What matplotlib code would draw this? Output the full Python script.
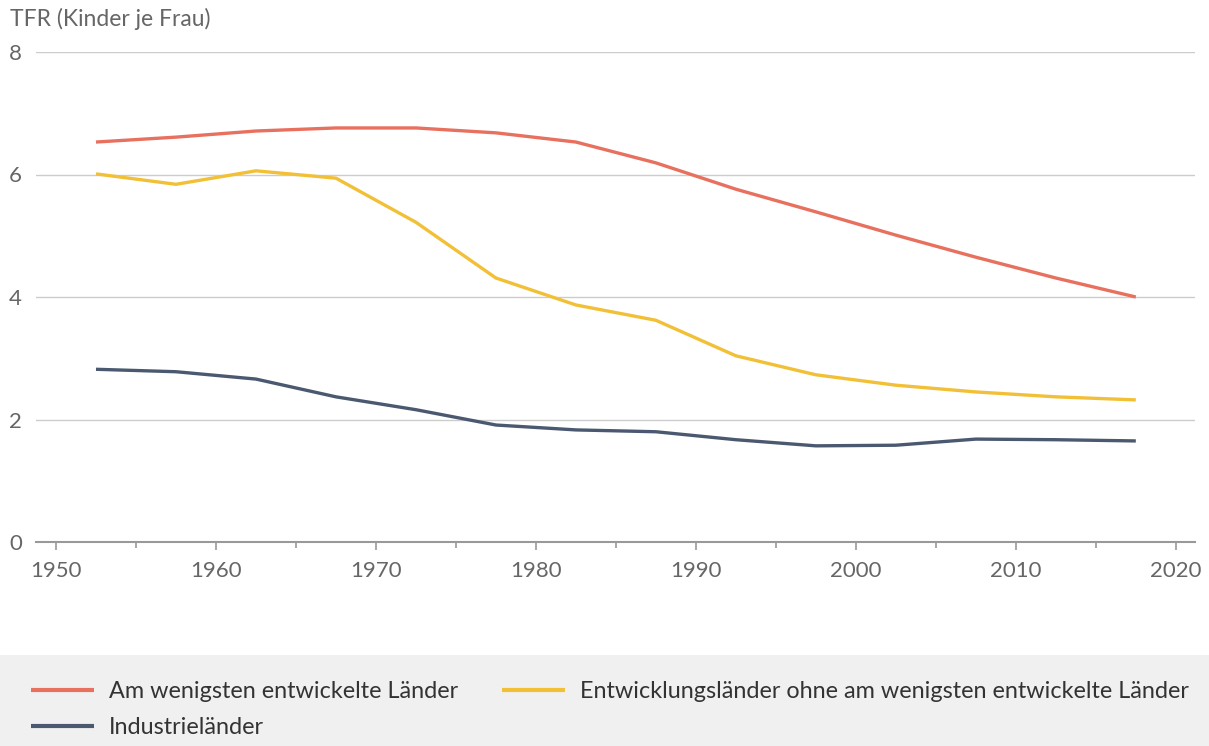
import matplotlib.pyplot as plt
from matplotlib.patches import Rectangle
from matplotlib.ticker import MultipleLocator

plt.rcParams['font.family'] = ['Lato', 'DejaVu Sans']

# --- DATA ---
years = [1952.5, 1957.5, 1962.5, 1967.5, 1972.5, 1977.5, 1982.5,
         1987.5, 1992.5, 1997.5, 2002.5, 2007.5, 2012.5, 2017.5]
am_wenigsten = [6.53, 6.61, 6.71, 6.76, 6.76, 6.68, 6.53,
                6.19, 5.76, 5.39, 5.01, 4.65, 4.31, 4.00]
entwicklung = [6.01, 5.84, 6.06, 5.94, 5.22, 4.31, 3.87,
               3.62, 3.04, 2.73, 2.56, 2.45, 2.37, 2.32]
industrie = [2.82, 2.78, 2.66, 2.37, 2.16, 1.91, 1.83,
             1.80, 1.67, 1.57, 1.58, 1.68, 1.67, 1.65]

labels = ['Am wenigsten entwickelte Länder', 'Industrieländer',
          'Entwicklungsländer ohne am wenigsten entwickelte Länder']
colors = ['#E8705F', '#4A5870', '#F2C037']

text_gray = '#666666'

# --- PLOT ---
fig = plt.figure(figsize=(12.09, 7.46), dpi=100)
ax = fig.add_axes([36 / 1209, (746 - 542) / 746, (1195 - 36) / 1209, 490 / 746])

l1, = ax.plot(years, am_wenigsten, color=colors[0], lw=2.4, solid_capstyle='butt')
l2, = ax.plot(years, industrie, color=colors[1], lw=2.4, solid_capstyle='butt')
l3, = ax.plot(years, entwicklung, color=colors[2], lw=2.4, solid_capstyle='butt')

ax.set_xlim(1948.75, 2021.2)
ax.set_ylim(0, 8)
ax.xaxis.set_major_locator(MultipleLocator(10))
ax.xaxis.set_minor_locator(MultipleLocator(5))
ax.yaxis.set_major_locator(MultipleLocator(2))

ax.grid(axis='y', color='#cccccc', lw=1)
ax.set_axisbelow(True)
for s in ['top', 'right', 'left']:
    ax.spines[s].set_visible(False)
ax.spines['bottom'].set_color('#999999')
ax.spines['bottom'].set_linewidth(1.5)

ax.tick_params(axis='x', which='major', length=6, color='#999999', width=1.2,
               labelsize=16, labelcolor=text_gray, pad=8)
ax.tick_params(axis='x', which='minor', length=4, color='#999999', width=1.2)
ax.tick_params(axis='y', length=0, labelsize=16, labelcolor=text_gray, pad=10)

fig.text(10 / 1209, 1 - 19 / 746, 'TFR (Kinder je Frau)', fontsize=16.5,
         color=text_gray, va='center', ha='left')

# legend background
fig.patches.append(Rectangle((0, 0), 1, 91 / 746, transform=fig.transFigure,
                             facecolor='#F0F0F0', edgecolor='none', zorder=0))

leg = fig.legend([l1, l2, l3], labels, ncol=2, loc='upper left',
                 bbox_to_anchor=(19 / 1209, 1 - 669 / 746), frameon=False,
                 borderpad=0, fontsize=16.8, handlelength=2.7, handletextpad=0.65,
                 columnspacing=1.9, labelspacing=0.65)
for h in leg.get_lines():
    h.set_linewidth(3)
for t in leg.get_texts():
    t.set_color('#333333')

fig.savefig('out.png', dpi=100)
